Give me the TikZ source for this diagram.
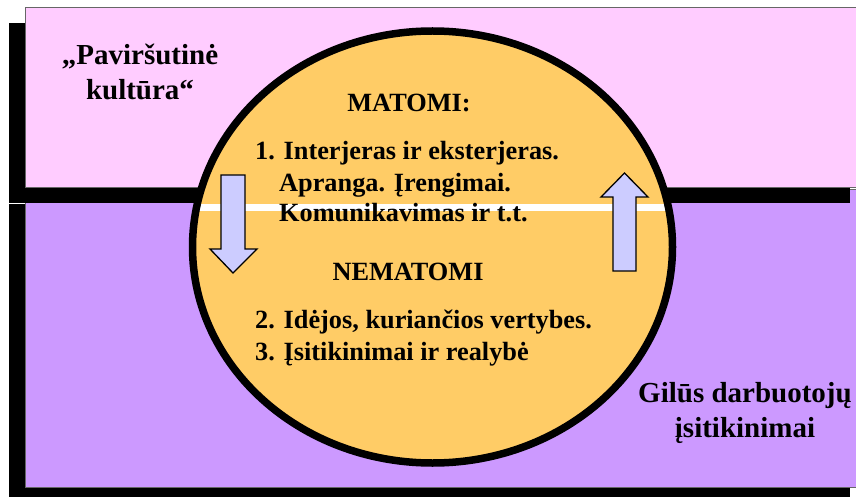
\documentclass[tikz,border=0pt]{standalone}
\usepackage{fontspec}
\setmainfont{Liberation Serif}
\usetikzlibrary{positioning}
\definecolor{surfacepink}{RGB}{255,204,255}
\definecolor{deeppurple}{RGB}{204,153,255}
\definecolor{coreorange}{RGB}{255,204,102}
\definecolor{arrowlilac}{RGB}{204,204,255}
\tikzstyle{shadowbox} = [fill=black]
\tikzstyle{layerbox} = [draw=black!60, line width=0.8pt]
\tikzstyle{corecircle} = [draw=black, line width=7.5pt]
\tikzstyle{blockarrow} = [draw=black, line width=1.3pt, fill=arrowlilac, line join=miter]
\tikzstyle{coretext} = [inner sep=0pt, font=\fontsize{26.3}{31}\selectfont\bfseries]
\tikzstyle{layertext} = [inner sep=0pt, align=center, font=\fontsize{29}{35}\selectfont\bfseries]

\begin{document}
\begin{tikzpicture}[x=1pt, y=-1pt]

\useasboundingbox (0,0) rectangle (856,497);
\clip (0,0) rectangle (856,497);

% Deep layer with its shadow
\fill[shadowbox] (9,204) rectangle (850,503);
\filldraw[layerbox, fill=deeppurple] (25,189) rectangle (866,487);

% Surface layer with its shadow
\fill[shadowbox] (9,23) rectangle (850,203);
\filldraw[layerbox, fill=surfacepink] (25,7) rectangle (866,187);

% Core circle
\fill[coreorange] (432.5,247) ellipse [x radius=240, y radius=216];
\begin{scope}
    \clip (432.5,247) ellipse [x radius=240, y radius=216];
    \fill[white] (150,204) rectangle (700,211);
\end{scope}
\draw[corecircle] (432.5,247) ellipse [x radius=240, y radius=216];

% Arrows down and up
\filldraw[blockarrow] (221,175) -- (245,175) -- (245,249) -- (257,249) -- (233,273) -- (210,249) -- (221,249) -- cycle;
\filldraw[blockarrow] (613,271) -- (636,271) -- (636,197) -- (648,197) -- (624.5,173) -- (601,197) -- (613,197) -- cycle;

% Visible part
\node[coretext, anchor=base] (matomi) at (409,112) {MATOMI:};
\node[coretext, anchor=base west] (vis1) at (255,160) {1. Interjeras ir eksterjeras.};
\node[coretext, anchor=base west] (vis2) at (279,191) {Apranga. Įrengimai.};
\node[coretext, anchor=base west] (vis3) at (279,222) {Komunikavimas ir t.t.};

% Invisible part
\node[coretext, anchor=base] (nematomi) at (408,280) {NEMATOMI};
\node[coretext, anchor=base west] (invis2) at (255,328) {2. Idėjos, kuriančios vertybes.};
\node[coretext, anchor=base west] (invis3) at (255,360) {3. Įsitikinimai ir realybė};

% Layer labels
\node[layertext, anchor=base] (surface) at (140,100) {„Paviršutinė\\kultūra“};
\node[layertext, anchor=base] (deep) at (745,437) {Gilūs darbuotojų\\įsitikinimai};

\end{tikzpicture}
\end{document}
